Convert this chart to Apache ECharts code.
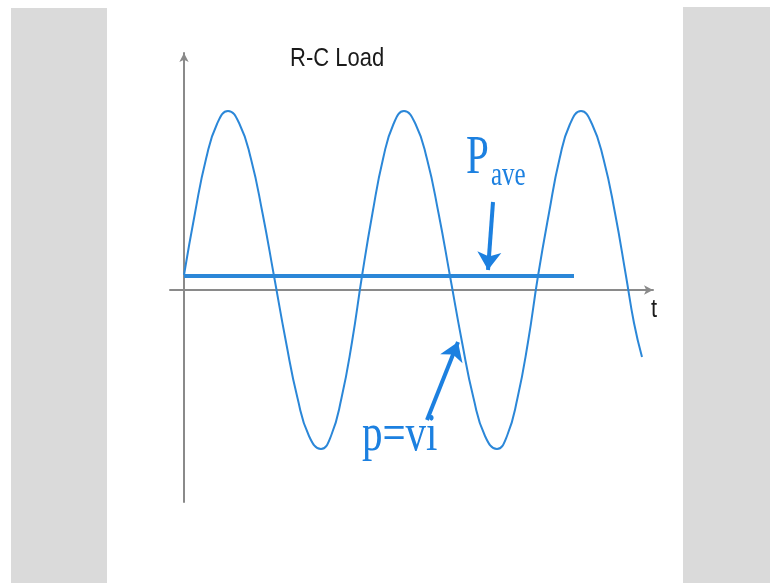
<!DOCTYPE html>
<html>
<head>
<meta charset="utf-8">
<title>R-C Load</title>
<script src="https://cdn.jsdelivr.net/npm/echarts@6.0.0/dist/echarts.min.js"></script>
<style>
	html, body { margin: 0; padding: 0; background: #fff; }
	#main { width: 770px; height: 583px; }
</style>
</head>
<body>
<div id="main"></div>
<script>
	// 读图得到的数据 (t 与 p 的单位任意)
	var waveT = [ 0, 1.1, 2.2, 3.3, 4.4, 5.55, 6.7, 7.85, 9.0, 10.2, 11.35, 12.5, 13.7, 14.7, 15.75, 16.8, 17.8,
			18.85, 19.9, 20.95, 22.0, 23.15, 24.3, 25.45, 26.6, 27.8, 28.95, 30.1, 31.3, 32.3, 33.35, 34.4, 35.4,
			36.5, 37.55, 38.6, 39.7, 40.8, 41.95, 43.1, 44.2, 45.0, 45.8 ];
	var waveP = [ 1.5, 7.7, 13.1, 16.6, 17.9, 16.6, 13.1, 7.7, 1.4, -5.2, -10.8, -14.6, -15.9, -14.6, -10.8, -5.2, 1.4,
			7.7, 13.1, 16.6, 17.9, 16.6, 13.1, 7.7, 1.4, -5.2, -10.8, -14.6, -15.9, -14.6, -10.8, -5.2, 1.4,
			7.7, 13.1, 16.6, 17.9, 16.6, 13.1, 7.7, 1.4, -3.3, -6.7 ];
	var paveT = [ 0, 39.0 ];
	var paveP = [ 1.4, 1.4 ];
	// 标注箭头 [起点, 终点]
	var paveArrow = [ [ 30.9, 8.8 ], [ 30.4, 2.0 ] ];
	var pviArrow = [ [ 24.3, -13.0 ], [ 27.4, -5.2 ] ];

	var blue = '#2b87d8';
	var textBlue = '#1c80e0';

	function pairs(xs, ys) {
		var out = [];
		for (var i = 0; i < xs.length; i++) {
			out.push([ xs[i], ys[i] ]);
		}
		return out;
	}

	var myChart = echarts.init(document.getElementById('main'));
	// 指定图表的配置项和数据
	var option = {
		animation : false,
		backgroundColor : '#fff',
		grid : {
			left : 170,
			right : 117,
			top : 53,
			bottom : 81
		},
		xAxis : {
			type : 'value',
			min : -1.4,
			max : 46.9,
			axisLine : {
				onZero : true,
				symbol : [ 'none', 'arrow' ],
				symbolSize : [ 7, 9 ],
				lineStyle : { color : '#8a8a8a', width : 2 }
			},
			axisTick : { show : false },
			axisLabel : { show : false },
			splitLine : { show : false }
		},
		yAxis : {
			type : 'value',
			min : -21.2,
			max : 23.7,
			axisLine : {
				onZero : true,
				symbol : [ 'none', 'arrow' ],
				symbolSize : [ 7, 9 ],
				lineStyle : { color : '#8a8a8a', width : 2 }
			},
			axisTick : { show : false },
			axisLabel : { show : false },
			splitLine : { show : false }
		},
		graphic : [
			{ type : 'rect', shape : { x : 11, y : 8, width : 96, height : 580 }, style : { fill : '#dadada' }, z : -10 },
			{ type : 'rect', shape : { x : 683, y : 7, width : 90, height : 580 }, style : { fill : '#dadada' }, z : -10 },
			{ type : 'text', x : 290, y : 46, scaleY : 1.2, style : { text : 'R-C Load', font : '22px "Liberation Sans", Arial, sans-serif', fill : '#1a1a1a', verticalAlign : 'top' } },
			{ type : 'text', x : 651, y : 297, scaleY : 1.2, style : { text : 't', font : '22px "Liberation Sans", Arial, sans-serif', fill : '#1a1a1a', verticalAlign : 'top' } },
			{ type : 'text', x : 466, y : 131, scaleY : 1.35, style : { text : 'P', font : '41px "Liberation Serif", "Times New Roman", serif', fill : textBlue, verticalAlign : 'top' } },
			{ type : 'text', x : 491, y : 159, scaleY : 1.35, style : { text : 'ave', font : '25px "Liberation Serif", "Times New Roman", serif', fill : textBlue, verticalAlign : 'top' } },
			{ type : 'text', x : 362, y : 409, scaleY : 1.3, style : { text : 'p=vi', font : '41px "Liberation Serif", "Times New Roman", serif', fill : textBlue, verticalAlign : 'top' } }
		],
		series : [ {
			name : 'p=vi',
			type : 'line',
			smooth : 0.5,
			showSymbol : false,
			data : pairs(waveT, waveP),
			lineStyle : { color : blue, width : 2 }
		}, {
			name : 'Pave',
			type : 'line',
			showSymbol : false,
			data : pairs(paveT, paveP),
			lineStyle : { color : blue, width : 4 }
		}, {
			name : 'arrows',
			type : 'lines',
			coordinateSystem : 'cartesian2d',
			symbol : [ 'none', 'arrow' ],
			symbolSize : 18,
			lineStyle : { color : textBlue, width : 4, opacity : 1 },
			data : [ { coords : paveArrow }, { coords : pviArrow } ]
		} ]
	};

	// 使用刚指定的配置项和数据显示图表。
	myChart.setOption(option);
</script>
</body>
</html>
